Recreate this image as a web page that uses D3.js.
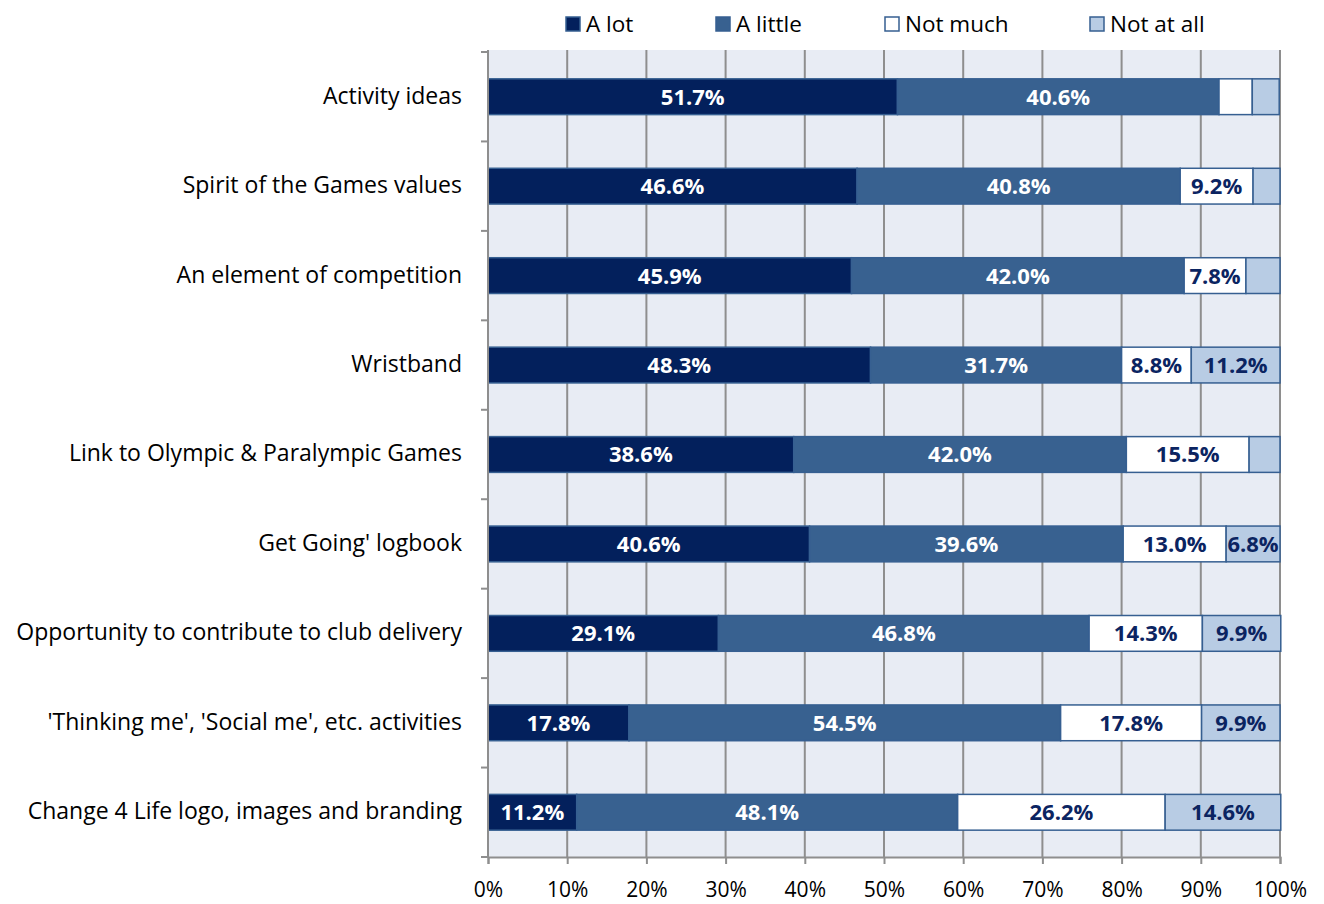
<!DOCTYPE html>
<html>
<head>
<meta charset="utf-8">
<script src="https://cdn.jsdelivr.net/npm/d3@7"></script>
<style>
  body { margin: 0; background: #fff; }
  svg text { font-family: "Open Sans", "Noto Sans", sans-serif; }
</style>
</head>
<body>
<svg id="chart" width="1324" height="904"></svg>
<script>
// categories, top to bottom
const categories = [
  "Activity ideas",
  "Spirit of the Games values",
  "An element of competition",
  "Wristband",
  "Link to Olympic & Paralympic Games",
  "Get Going' logbook",
  "Opportunity to contribute to club delivery",
  "'Thinking me', 'Social me', etc. activities",
  "Change 4 Life logo, images and branding"
];

const seriesNames = ["A lot", "A little", "Not much", "Not at all"];

// values in %, same order as categories
const aLot     = [51.7, 46.6, 45.9, 48.3, 38.6, 40.6, 29.1, 17.8, 11.2];
const aLittle  = [40.6, 40.8, 42.0, 31.7, 42.0, 39.6, 46.8, 54.5, 48.1];
const notMuch  = [4.2,  9.2,  7.8,  8.8,  15.5, 13.0, 14.3, 17.8, 26.2];
const notAtAll = [3.4,  3.4,  4.3,  11.2, 3.9,  6.8,  9.9,  9.9,  14.6];

const xTicks = [0, 10, 20, 30, 40, 50, 60, 70, 80, 90, 100];

const fills = ["#03205c", "#386190", "#ffffff", "#b8cce4"];
const labelColors = ["#ffffff", "#ffffff", "#0b2461", "#0b2461"];

const svg = d3.select('#chart');
const margin = {top: 52, right: 44, bottom: 47, left: 488};
const width = 1280 - margin.left;
const height = 857 - margin.top;

const g = svg.append('g').attr('transform', 'translate(' + margin.left + ',' + margin.top + ')');

const x = d3.scaleLinear().domain([0, 100]).range([0, width]);
const y = d3.scaleBand().domain(categories).range([0, height]).paddingInner(0.6).paddingOuter(0.3);

// plot background
g.append('rect')
  .attr('x', 0).attr('y', -2)
  .attr('width', width).attr('height', height + 2)
  .attr('fill', '#e8ecf4');

// vertical gridlines
g.selectAll('.grid')
  .data(xTicks.slice(1))
  .enter().append('line')
  .attr('x1', d => x(d)).attr('x2', d => x(d))
  .attr('y1', -2).attr('y2', height)
  .attr('stroke', '#8e8e8e')
  .attr('stroke-width', 2);

// stack the data
const rows = categories.map((c, i) => ({
  cat: c,
  "A lot": aLot[i],
  "A little": aLittle[i],
  "Not much": notMuch[i],
  "Not at all": notAtAll[i]
}));
const stacked = d3.stack().keys(seriesNames)(rows);

const layers = g.selectAll('.layer')
  .data(stacked)
  .enter().append('g')
  .attr('class', 'layer');

layers.selectAll('rect')
  .data(d => d)
  .enter().append('rect')
  .attr('x', d => x(d[0]))
  .attr('y', d => y(d.data.cat))
  .attr('width', d => x(d[1]) - x(d[0]))
  .attr('height', y.bandwidth())
  .attr('fill', function() { return fills[d3.select(this.parentNode).datum().index]; })
  .attr('stroke', '#365f91')
  .attr('stroke-width', 1.5);

// value labels (small slices stay unlabelled)
layers.selectAll('text')
  .data(d => d.filter(s => s[1] - s[0] >= 5))
  .enter().append('text')
  .attr('x', d => x((d[0] + d[1]) / 2))
  .attr('y', d => y(d.data.cat) + y.bandwidth() / 2)
  .attr('dy', '0.36em')
  .attr('text-anchor', 'middle')
  .attr('font-size', 22)
  .attr('font-weight', 'bold')
  .attr('fill', function() { return labelColors[d3.select(this.parentNode).datum().index]; })
  .text(d => (d[1] - d[0]).toFixed(1) + '%');

// left axis: ticks at category boundaries
const yAxisG = g.append('g');
yAxisG.append('line')
  .attr('x1', 0).attr('x2', 0).attr('y1', -2).attr('y2', height)
  .attr('stroke', '#8e8e8e').attr('stroke-width', 2);
yAxisG.selectAll('.ytick')
  .data(d3.range(categories.length + 1))
  .enter().append('line')
  .attr('x1', -7).attr('x2', 0)
  .attr('y1', i => i * height / categories.length)
  .attr('y2', i => i * height / categories.length)
  .attr('stroke', '#8e8e8e').attr('stroke-width', 2);

yAxisG.selectAll('.ylabel')
  .data(categories)
  .enter().append('text')
  .attr('x', -26)
  .attr('y', d => y(d) + y.bandwidth() / 2)
  .attr('dy', '0.3em')
  .attr('text-anchor', 'end')
  .attr('font-size', 23)
  .attr('fill', '#000')
  .text(d => d);

// bottom axis
const xAxis = d3.axisBottom(x)
  .tickValues(xTicks)
  .tickSize(7)
  .tickFormat(d => d + '%');
const xAxisG = g.append('g')
  .attr('transform', 'translate(0,' + height + ')')
  .call(xAxis);
xAxisG.select('.domain').attr('stroke', '#8e8e8e').attr('stroke-width', 2);
xAxisG.selectAll('.tick line').attr('stroke', '#8e8e8e').attr('stroke-width', 2);
xAxisG.selectAll('.tick text')
  .attr('font-size', 21)
  .attr('fill', '#000')
  .attr('dy', '1.45em')
  .style('font-family', '"Open Sans", "Noto Sans", sans-serif');

// legend
const legendX = [566, 716, 885, 1090];
const legend = svg.append('g');
const items = legend.selectAll('.item')
  .data(seriesNames)
  .enter().append('g')
  .attr('transform', (d, i) => 'translate(' + legendX[i] + ',17)');
items.append('rect')
  .attr('width', 14).attr('height', 14)
  .attr('fill', (d, i) => fills[i])
  .attr('stroke', '#365f91').attr('stroke-width', 1.5);
items.append('text')
  .attr('x', 20).attr('y', 7)
  .attr('dy', '0.36em')
  .attr('font-size', 22.5)
  .attr('fill', '#000')
  .text(d => d);
</script>
</body>
</html>
